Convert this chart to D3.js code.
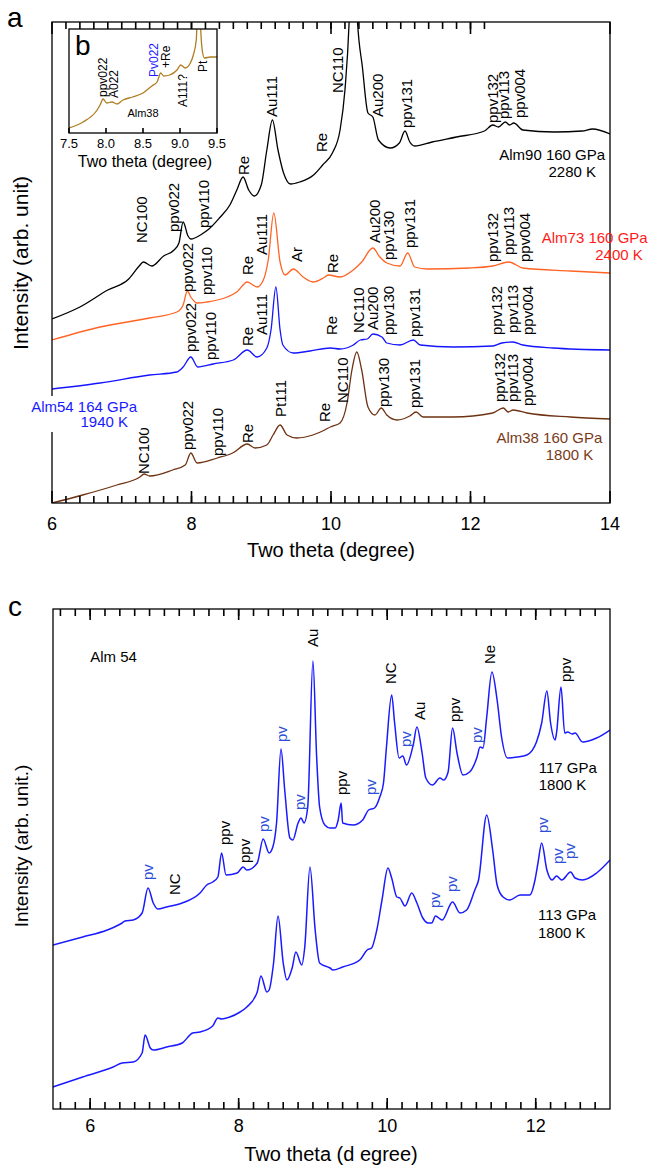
<!DOCTYPE html>
<html>
<head>
<meta charset="utf-8">
<script src="https://cdn.jsdelivr.net/npm/d3@7"></script>
<style>
  body { margin: 0; background: #fff; }
  text { font-family: "Liberation Sans", Arial, sans-serif; }
</style>
</head>
<body>
<div id="chart"></div>
<script>
// ---------- panel a data : [two theta, intensity (arb.)] ----------
const alm90 = [
  [6.0, 184], [6.4, 196], [6.8, 213], [7.1, 224], [7.25, 237], [7.31, 241], [7.43, 237],
  [7.6, 247], [7.75, 253], [7.82, 260], [7.88, 281], [7.95, 267], [7.99, 264], [8.15, 269],
  [8.25, 274], [8.4, 285], [8.55, 298], [8.65, 313], [8.74, 326], [8.82, 313], [8.9, 307],
  [9.0, 318], [9.08, 353], [9.16, 383], [9.24, 353], [9.32, 330], [9.42, 319], [9.55, 321],
  [9.75, 328], [9.88, 338], [10.02, 350], [10.13, 373], [10.2, 413], [10.26, 481],
  [10.31, 600], [10.38, 481], [10.45, 436], [10.53, 390], [10.6, 386], [10.68, 363],
  [10.85, 355], [10.98, 360], [11.06, 372], [11.13, 361], [11.2, 357], [11.45, 361],
  [11.8, 366], [12.2, 372], [12.32, 378], [12.4, 376], [12.5, 381], [12.56, 378],
  [12.62, 380], [12.75, 373], [13.2, 371], [13.6, 372], [13.75, 374], [14.0, 369]
];
const alm73 = [
  [6.0, 163], [6.69, 176], [7.4, 185], [7.79, 191], [7.88, 198], [7.94, 212], [7.99, 206],
  [8.08, 200], [8.22, 201], [8.51, 206], [8.65, 211], [8.8, 221], [8.94, 216], [9.03, 223],
  [9.1, 243], [9.18, 290], [9.27, 241], [9.34, 228], [9.46, 234], [9.6, 226], [9.74, 221],
  [9.89, 225], [9.96, 228], [10.13, 226], [10.32, 233], [10.44, 241], [10.6, 255],
  [10.7, 246], [10.8, 240], [10.99, 237], [11.1, 250], [11.2, 236], [11.38, 234],
  [11.99, 235], [12.32, 237], [12.55, 241], [12.75, 235], [13.43, 232], [14.0, 230]
];
const alm54 = [
  [6.0, 114], [6.69, 120], [7.4, 128], [7.79, 131], [7.88, 136], [7.99, 146], [8.09, 136],
  [8.31, 139], [8.6, 143], [8.8, 153], [8.94, 146], [9.08, 155], [9.14, 173], [9.21, 216],
  [9.27, 173], [9.31, 158], [9.46, 150], [9.7, 152], [9.99, 155], [10.13, 154], [10.32, 158],
  [10.42, 163], [10.52, 164], [10.6, 169], [10.73, 166], [10.8, 160], [10.99, 158],
  [11.18, 163], [11.28, 158], [11.75, 156], [12.32, 157], [12.45, 160], [12.61, 161],
  [12.75, 158], [13.18, 155], [14.0, 153]
];
const alm38 = [
  [6.0, 0], [6.44, 8], [6.93, 18], [7.26, 26], [7.32, 29], [7.4, 27], [7.73, 33], [7.91, 38],
  [7.99, 50], [8.08, 40], [8.37, 45], [8.59, 50], [8.8, 59], [8.91, 55], [9.08, 58],
  [9.17, 68], [9.27, 78], [9.37, 68], [9.51, 65], [9.74, 68], [9.91, 73], [9.99, 76],
  [10.13, 80], [10.23, 100], [10.3, 133], [10.37, 151], [10.44, 133], [10.53, 96],
  [10.63, 88], [10.72, 95], [10.8, 88], [10.95, 83], [11.13, 87], [11.22, 91], [11.32, 86],
  [11.75, 86], [12.32, 90], [12.47, 95], [12.54, 91], [12.61, 93], [12.81, 90],
  [13.43, 86], [14.0, 84]
];
// inset b (Alm38, low angle)
const insetAlm38 = [
  [7.5, 5], [7.69, 11], [7.88, 23], [7.92, 28], [7.96, 34], [8.01, 30], [8.08, 31],
  [8.15, 29], [8.23, 33], [8.36, 36], [8.5, 40], [8.62, 47], [8.69, 51], [8.74, 60],
  [8.78, 57], [8.86, 58], [8.96, 63], [9.01, 68], [9.07, 65], [9.14, 70], [9.18, 78],
  [9.22, 93], [9.255, 170], [9.28, 104], [9.3, 83], [9.33, 75], [9.41, 76], [9.5, 76]
];

// peak labels: [text, two theta, intensity at label foot]
const labels90 = [
  ["NC100", 7.29, 260], ["ppv022", 7.75, 271], ["ppv110", 8.18, 275], ["Re", 8.74, 328],
  ["Au111", 9.15, 386], ["Re", 9.87, 351], ["NC110", 10.1, 410], ["Au200", 10.67, 386],
  ["ppv131", 11.08, 375], ["ppv132", 12.32, 380], ["ppv113", 12.48, 384], ["ppv004", 12.71, 385]
];
const labels73 = [
  ["ppv022", 7.94, 211], ["ppv110", 8.22, 208], ["Re", 8.8, 228], ["Au111", 9.01, 248],
  ["Ar", 9.51, 241], ["Re", 10.03, 230], ["Au200", 10.62, 260], ["ppv130", 10.82, 243],
  ["ppv131", 11.13, 255], ["ppv132", 12.32, 241], ["ppv113", 12.54, 248], ["ppv004", 12.77, 241]
];
const labels54 = [
  ["ppv022", 7.98, 151], ["ppv110", 8.28, 143], ["Re", 8.8, 157], ["Au111", 9.01, 168],
  ["Re", 10.01, 168], ["NC110", 10.39, 170], ["Au200", 10.6, 173], ["ppv130", 10.82, 168],
  ["ppv131", 11.2, 166], ["ppv132", 12.38, 168], ["ppv113", 12.61, 170], ["ppv004", 12.82, 168]
];
const labels38 = [
  ["NC100", 7.32, 29], ["ppv022", 7.95, 53], ["ppv110", 8.38, 47], ["Re", 8.8, 60],
  ["Pt111", 9.28, 86], ["Re", 9.91, 81], ["NC110", 10.16, 100], ["ppv130", 10.75, 96],
  ["ppv131", 11.2, 95], ["ppv132", 12.42, 101], ["ppv113", 12.61, 101], ["ppv004", 12.82, 97]
];
const labelsInset = [
  ["ppv022", 7.96, 36, "#000"], ["A022", 8.11, 35, "#000"], ["Pv022", 8.64, 56, "#1a1aff"],
  ["+Re", 8.8, 65, "#000"], ["A111?", 9.04, 26, "#000"], ["Pt", 9.3, 61, "#000"]
];

// ---------- panel c data ----------
const c117 = [
  [5.5, 164], [5.9, 172], [6.23, 179], [6.43, 186], [6.47, 188], [6.58, 189], [6.7, 196],
  [6.78, 221], [6.85, 206], [6.91, 200], [7.03, 202], [7.24, 206], [7.48, 216], [7.57, 224],
  [7.65, 227], [7.72, 232], [7.77, 256], [7.83, 234], [7.98, 236], [8.06, 242], [8.11, 239],
  [8.25, 246], [8.33, 270], [8.41, 256], [8.46, 262], [8.51, 286], [8.57, 360], [8.62, 319],
  [8.69, 271], [8.73, 269], [8.8, 286], [8.84, 291], [8.88, 286], [8.93, 302], [9.0, 448],
  [9.05, 352], [9.09, 302], [9.16, 284], [9.23, 281], [9.3, 281], [9.34, 289], [9.38, 306],
  [9.4, 286], [9.54, 284], [9.67, 289], [9.75, 299], [9.83, 301], [9.9, 312], [9.95, 326],
  [9.99, 362], [10.06, 414], [10.1, 386], [10.16, 351], [10.21, 353], [10.26, 344],
  [10.35, 364], [10.4, 382], [10.47, 356], [10.52, 331], [10.61, 324], [10.71, 331],
  [10.76, 329], [10.82, 337], [10.88, 381], [10.94, 356], [11.02, 334], [11.11, 337],
  [11.21, 352], [11.25, 362], [11.29, 361], [11.34, 392], [11.41, 437], [11.48, 409],
  [11.54, 372], [11.62, 351], [11.75, 352], [11.88, 354], [12.01, 367], [12.08, 386],
  [12.15, 418], [12.2, 386], [12.26, 369], [12.28, 376], [12.34, 422], [12.39, 376],
  [12.43, 377], [12.49, 375], [12.53, 376], [12.63, 367], [12.82, 371], [13.0, 379]
];
const c113 = [
  [5.5, 22], [5.9, 32], [6.31, 42], [6.43, 46], [6.58, 47], [6.7, 56], [6.74, 74], [6.81, 61],
  [6.85, 59], [7.03, 62], [7.24, 66], [7.38, 76], [7.48, 77], [7.65, 83], [7.72, 91],
  [7.77, 90], [7.88, 92], [8.02, 97], [8.11, 102], [8.25, 117], [8.3, 133], [8.38, 117],
  [8.41, 119], [8.47, 146], [8.53, 193], [8.6, 146], [8.65, 129], [8.72, 141], [8.77, 157],
  [8.85, 144], [8.89, 162], [8.96, 242], [9.03, 179], [9.09, 146], [9.23, 141], [9.27, 139],
  [9.4, 142], [9.63, 149], [9.73, 159], [9.79, 161], [9.86, 179], [9.93, 209], [10.01, 241],
  [10.06, 231], [10.13, 212], [10.17, 211], [10.24, 203], [10.33, 216], [10.4, 206],
  [10.48, 191], [10.55, 186], [10.6, 186], [10.65, 193], [10.74, 189], [10.88, 207],
  [10.98, 196], [11.07, 199], [11.18, 219], [11.23, 229], [11.34, 294], [11.42, 259],
  [11.48, 224], [11.56, 212], [11.65, 209], [11.79, 214], [11.92, 214], [11.99, 229],
  [12.03, 246], [12.08, 266], [12.15, 239], [12.22, 229], [12.28, 233], [12.35, 229],
  [12.47, 237], [12.53, 231], [12.63, 229], [12.82, 236], [13.0, 249]
];
// [text, two theta, intensity at label foot, is pv (blue)]
const labelsC = [
  ["pv", 6.77, 229, true], ["NC", 7.14, 214, false], ["ppv", 7.81, 264, false],
  ["ppv", 8.08, 246, false], ["pv", 8.33, 277, true], ["pv", 8.58, 367, true],
  ["pv", 8.82, 299, true], ["Au", 8.99, 462, false], ["ppv", 9.39, 314, false],
  ["pv", 9.77, 314, true], ["NC", 10.04, 425, false], ["pv", 10.25, 362, true],
  ["Au", 10.43, 389, false], ["ppv", 10.91, 387, false], ["pv", 11.21, 366, true],
  ["Ne", 11.38, 445, false], ["ppv", 12.4, 427, false],
  ["pv", 10.64, 201, true], ["pv", 10.87, 217, true], ["pv", 12.09, 276, true],
  ["pv", 12.3, 245, true], ["pv", 12.45, 250, true]
];

// tick positions (two theta)
const ticksAMajor = [6, 8, 10, 12, 14];
const ticksAMinor = d3.range(31).map((i) => 6.2 + i * 0.2).filter((v) => v < 13.95);
const ticksBMajor = [7.5, 8.0, 8.5, 9.0, 9.5];
const ticksCMajor = [6, 8, 10, 12];
const ticksCMinor = d3.range(37).map((i) => 5.6 + i * 0.2).filter((v) => v < 12.95);

const width = 649;
const height = 1166;

const svg = d3.select("#chart").append("svg")
  .attr("width", width).attr("height", height);

// ---------- helpers ----------
// inward tick marks; dir = -1 goes up from a bottom edge, +1 goes down from a top edge
function drawTicks(g, x, yBase, dir, values, len) {
  g.append("g").selectAll("line")
    .data(values)
    .join("line")
    .attr("x1", (d) => x(d)).attr("x2", (d) => x(d))
    .attr("y1", yBase).attr("y2", yBase + dir * len)
    .attr("stroke", "#000")
    .attr("stroke-width", 1.6);
}

function drawTickLabels(g, x, y0, majors, pad, size, fmt) {
  g.append("g").selectAll("text")
    .data(majors)
    .join("text")
    .attr("x", (d) => x(d))
    .attr("y", y0 + pad)
    .attr("text-anchor", "middle")
    .attr("font-size", size)
    .attr("fill", "#000")
    .text(fmt);
}

function drawCurve(g, data, x, y, color, clip, w) {
  g.append("path")
    .datum(data)
    .attr("clip-path", `url(#${clip})`)
    .attr("fill", "none")
    .attr("stroke", color)
    .attr("stroke-width", w)
    .attr("stroke-linejoin", "round")
    .attr("d", d3.line().curve(d3.curveMonotoneX).x((d) => x(d[0])).y((d) => y(d[1])));
}

function drawPeakLabels(g, list, x, y, size, colorFn) {
  g.append("g").selectAll("text")
    .data(list)
    .join("text")
    .attr("transform", (d) => `translate(${x(d[1])},${y(d[2])}) rotate(-90)`)
    .attr("dy", "0.36em")
    .attr("font-size", size)
    .attr("fill", colorFn)
    .text((d) => d[0]);
}

function addText(g, str, px, py, size, color, anchor) {
  return g.append("text")
    .attr("x", px).attr("y", py)
    .attr("font-size", size)
    .attr("fill", color)
    .attr("text-anchor", anchor || "start")
    .text(str);
}

const defs = svg.append("defs");

// ================= panel a =================
const xa = d3.scaleLinear().domain([6, 14]).range([52, 610]);
const ya = d3.scaleLinear().domain([0, 481]).range([503, 22]);
const ga = svg.append("g");

defs.append("clipPath").attr("id", "clipA").append("rect")
  .attr("x", 52).attr("y", 22).attr("width", 558).attr("height", 481);

drawCurve(ga, alm90, xa, ya, "#000", "clipA", 1.3);
drawCurve(ga, alm73, xa, ya, "#ff6424", "clipA", 1.3);
drawCurve(ga, alm54, xa, ya, "#1414ff", "clipA", 1.3);
drawCurve(ga, alm38, xa, ya, "#6e3212", "clipA", 1.3);

drawPeakLabels(ga, labels90, xa, ya, 15, "#000");
drawPeakLabels(ga, labels73, xa, ya, 15, "#000");
drawPeakLabels(ga, labels54, xa, ya, 15, "#000");
drawPeakLabels(ga, labels38, xa, ya, 15, "#000");

ga.append("rect").attr("x", 52).attr("y", 22).attr("width", 558).attr("height", 481)
  .attr("fill", "none").attr("stroke", "#000").attr("stroke-width", 1.3);
drawTicks(ga, xa, 503, -1, ticksAMinor, 7);
drawTicks(ga, xa, 503, -1, ticksAMajor, 12);
drawTicks(ga, xa, 22, 1, ticksAMinor, 7);
drawTicks(ga, xa, 22, 1, ticksAMajor, 12);
drawTickLabels(ga, xa, 503, ticksAMajor, 27, 18, (d) => d);

// sample captions
addText(ga, "Alm90 160 GPa", xa(13.93), ya(343), 15, "#000", "end");
addText(ga, "2280 K", xa(13.8), ya(326), 15, "#000", "end");
addText(ga, "Alm73 160 GPa", xa(14.54), ya(260), 15, "#ff1a1a", "end");
addText(ga, "2400 K", xa(14.47), ya(243), 15, "#ff1a1a", "end");
const cap54 = ga.append("g");
const t54a = addText(cap54, "Alm54 164 GPa", xa(7.22), ya(91), 15, "#1a1aff", "end");
const t54b = addText(cap54, "1940 K", xa(7.09), ya(76), 15, "#1a1aff", "end");
const b1 = t54a.node().getBBox();
const b2 = t54b.node().getBBox();
cap54.insert("rect", "text")
  .attr("x", b1.x - 3).attr("y", b1.y - 2)
  .attr("width", b1.width + 6).attr("height", b2.y + b2.height - b1.y + 4)
  .attr("fill", "#fff");
addText(ga, "Alm38 160 GPa", xa(13.89), ya(60), 15, "#7a3a1a", "end");
addText(ga, "1800 K", xa(13.76), ya(43), 15, "#7a3a1a", "end");

addText(svg, "Two theta (degree)", 331, 557, 20, "#000", "middle");
svg.append("text")
  .attr("transform", "translate(28,263) rotate(-90)")
  .attr("text-anchor", "middle")
  .attr("font-size", 21)
  .text("Intensity (arb. unit)");
addText(svg, "a", 7, 27, 28, "#000");

// ---------- inset b ----------
const xb = d3.scaleLinear().domain([7.5, 9.5]).range([69, 217]);
const yb = d3.scaleLinear().domain([0, 104]).range([133, 29]);
const gb = svg.append("g");
gb.append("rect").attr("x", 69).attr("y", 29).attr("width", 148).attr("height", 104)
  .attr("fill", "#fff");
defs.append("clipPath").attr("id", "clipB").append("rect")
  .attr("x", 69).attr("y", 29).attr("width", 148).attr("height", 104);
drawCurve(gb, insetAlm38, xb, yb, "#b07d20", "clipB", 1.3);
gb.append("rect").attr("x", 69).attr("y", 29).attr("width", 148).attr("height", 104)
  .attr("fill", "none").attr("stroke", "#000").attr("stroke-width", 1.3);
drawTicks(gb, xb, 133, -1, ticksBMajor, 5);
drawTickLabels(gb, xb, 133, ticksBMajor, 15, 13, d3.format(".1f"));
drawPeakLabels(gb, labelsInset, xb, yb, 12, (d) => d[3]);
addText(gb, "Alm38", xb(8.5), yb(16), 11, "#000", "middle");
addText(gb, "Two theta (degree)", 145, 167, 16, "#000", "middle");
addText(gb, "b", 75, 55, 28, "#000");

// ================= panel c =================
const xc = d3.scaleLinear().domain([5.5, 13]).range([53, 610]);
const yc = d3.scaleLinear().domain([0, 500]).range([1109, 609]);
const gc = svg.append("g");
defs.append("clipPath").attr("id", "clipC").append("rect")
  .attr("x", 53).attr("y", 609).attr("width", 557).attr("height", 500);

drawCurve(gc, c117, xc, yc, "#1a1aff", "clipC", 1.5);
drawCurve(gc, c113, xc, yc, "#1a1aff", "clipC", 1.5);
drawPeakLabels(gc, labelsC, xc, yc, 15, (d) => (d[3] ? "#2d4fd6" : "#000"));

gc.append("rect").attr("x", 53).attr("y", 609).attr("width", 557).attr("height", 500)
  .attr("fill", "none").attr("stroke", "#000").attr("stroke-width", 1.3);
drawTicks(gc, xc, 1109, -1, ticksCMinor, 7);
drawTicks(gc, xc, 1109, -1, ticksCMajor, 11);
drawTicks(gc, xc, 609, 1, ticksCMinor, 7);
drawTicks(gc, xc, 609, 1, ticksCMajor, 11);
drawTickLabels(gc, xc, 1109, ticksCMajor, 23, 18, (d) => d);

addText(gc, "Alm 54", xc(6.0), yc(447), 15, "#000");
addText(gc, "117 GPa", xc(12.04), yc(336), 15, "#000");
addText(gc, "1800 K", xc(12.04), yc(319), 15, "#000");
addText(gc, "113 GPa", xc(12.03), yc(189), 15, "#000");
addText(gc, "1800 K", xc(12.03), yc(171), 15, "#000");

addText(svg, "Two theta (d egree)", 331, 1161, 20, "#000", "middle");
svg.append("text")
  .attr("transform", "translate(28,846) rotate(-90)")
  .attr("text-anchor", "middle")
  .attr("font-size", 19)
  .text("Intensity (arb. unit.)");
addText(svg, "c", 8, 616, 28, "#000");
</script>
</body>
</html>
